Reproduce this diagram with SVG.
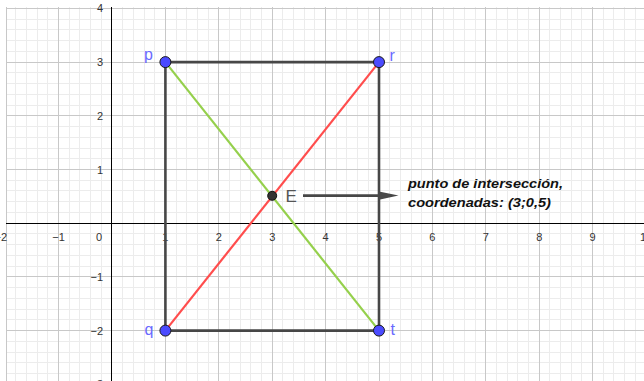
<svg xmlns="http://www.w3.org/2000/svg" width="644" height="381" viewBox="0 0 644 381">
<style>
.minor{stroke:#ececec;stroke-width:1;fill:none}
.major{stroke:#c8c8c8;stroke-width:1;fill:none}
.axis{stroke:#000;stroke-width:1;fill:none}
.tick{font-family:"Liberation Sans",Arial,sans-serif;font-size:11px;fill:#333}
.seg{stroke:#474747;stroke-width:2.6;fill:none;stroke-linecap:round}
.pt{fill:#4b4bff;stroke:#1a1a1a;stroke-width:1}
.plabel{font-family:"Liberation Sans",Arial,sans-serif;font-size:16px;fill:#6a6aff}
.note{font-family:"Liberation Sans",Arial,sans-serif;font-size:13.5px;font-weight:bold;font-style:italic;fill:#111}
</style>
<defs>
<clipPath id="plot"><rect x="6" y="7" width="638" height="374"/></clipPath>
<clipPath id="lab"><rect x="0" y="4" width="644" height="377"/></clipPath>
</defs>
<rect width="644" height="381" fill="#fff"/>
<g id="grid" clip-path="url(#plot)">
<path class="minor" d="M15.5 7V381M26.5 7V381M37.5 7V381M47.5 7V381M69.5 7V381M79.5 7V381M90.5 7V381M101.5 7V381M122.5 7V381M133.5 7V381M144.5 7V381M154.5 7V381M176.5 7V381M186.5 7V381M197.5 7V381M208.5 7V381M229.5 7V381M240.5 7V381M250.5 7V381M261.5 7V381M282.5 7V381M293.5 7V381M304.5 7V381M314.5 7V381M336.5 7V381M346.5 7V381M357.5 7V381M368.5 7V381M389.5 7V381M400.5 7V381M411.5 7V381M421.5 7V381M443.5 7V381M453.5 7V381M464.5 7V381M475.5 7V381M496.5 7V381M507.5 7V381M517.5 7V381M528.5 7V381M549.5 7V381M560.5 7V381M571.5 7V381M581.5 7V381M603.5 7V381M613.5 7V381M624.5 7V381M635.5 7V381
M6 19.5H644M6 29.5H644M6 40.5H644M6 51.5H644M6 72.5H644M6 83.5H644M6 94.5H644M6 105.5H644M6 126.5H644M6 137.5H644M6 148.5H644M6 158.5H644M6 180.5H644M6 190.5H644M6 201.5H644M6 212.5H644M6 233.5H644M6 244.5H644M6 255.5H644M6 266.5H644M6 287.5H644M6 298.5H644M6 309.5H644M6 319.5H644M6 341.5H644M6 352.5H644M6 362.5H644M6 373.5H644"/>
<path class="major" d="M6.5 7V381M58.5 7V381M165.5 7V381M218.5 7V381M272.5 7V381M325.5 7V381M379.5 7V381M432.5 7V381M485.5 7V381M539.5 7V381M592.5 7V381
M6 8.5H644M6 62.5H644M6 115.5H644M6 169.5H644M6 276.5H644M6 330.5H644"/>
<path class="axis" d="M111.5 7V381M6 223.5H644"/>
</g>
<g id="ticks" class="tick" clip-path="url(#lab)">
<g text-anchor="middle">
<text x="58.6" y="240.7">−1</text>
<text x="165.4" y="240.7">1</text>
<text x="218.8" y="240.7">2</text>
<text x="272.2" y="240.7">3</text>
<text x="325.6" y="240.7">4</text>
<text x="379" y="240.7">5</text>
<text x="432.4" y="240.7">6</text>
<text x="485.8" y="240.7">7</text>
<text x="539.2" y="240.7">8</text>
<text x="592.6" y="240.7">9</text>
<text x="646" y="240.7">10</text>
</g>
<g text-anchor="end">
<text x="7" y="240.7">−2</text>
<text x="102" y="240.7">0</text>
<text x="103" y="12.4">4</text>
<text x="103" y="66.3">3</text>
<text x="103" y="120">2</text>
<text x="103" y="173.7">1</text>
<text x="103" y="281">−1</text>
<text x="103" y="334.7">−2</text>
<text x="103" y="388.4">−3</text>
</g>
</g>
<g id="connectors">
<path id="seg-pr" class="seg" d="M165.4 62.1H379"/>
<path id="seg-qt" class="seg" d="M165.4 330.6H379"/>
<path id="seg-pq" class="seg" d="M165.4 62.1V330.6"/>
<path id="seg-rt" class="seg" d="M379 62.1V330.6"/>
<path id="seg-pt" d="M165.4 62.1L379 330.6" stroke="#95d04c" stroke-width="2.2" fill="none"/>
<path id="seg-qr" d="M165.4 330.6L379 62.1" stroke="#ff4d4d" stroke-width="2.2" fill="none"/>
<g id="arrow-E">
<path d="M303 195.6H381" stroke="#474747" stroke-width="2.6" fill="none"/>
<path d="M379 191.4L398.5 195.6L379 199.8Z" fill="#474747"/>
</g>
</g>
<g id="point-p"><circle class="pt" cx="165.4" cy="62.1" r="5.5"/><text class="plabel" x="144" y="60">p</text></g>
<g id="point-r"><circle class="pt" cx="379" cy="62.1" r="5.5"/><text class="plabel" x="389.5" y="60.5">r</text></g>
<g id="point-q"><circle class="pt" cx="165.4" cy="330.6" r="5.5"/><text class="plabel" x="144.5" y="335">q</text></g>
<g id="point-t"><circle class="pt" cx="379" cy="330.6" r="5.5"/><text class="plabel" x="390.5" y="335">t</text></g>
<g id="point-E"><circle cx="272.2" cy="195.8" r="4.5" fill="#333" stroke="#111" stroke-width="1"/><text x="285.5" y="201.7" font-family="'Liberation Sans',Arial,sans-serif" font-size="17" fill="#555">E</text></g>
<g id="note">
<text class="note" x="408" y="188.3" textLength="155" lengthAdjust="spacingAndGlyphs">punto de intersección,</text>
<text class="note" x="408" y="207.3" textLength="143" lengthAdjust="spacingAndGlyphs">coordenadas: (3;0,5)</text>
</g>
</svg>
